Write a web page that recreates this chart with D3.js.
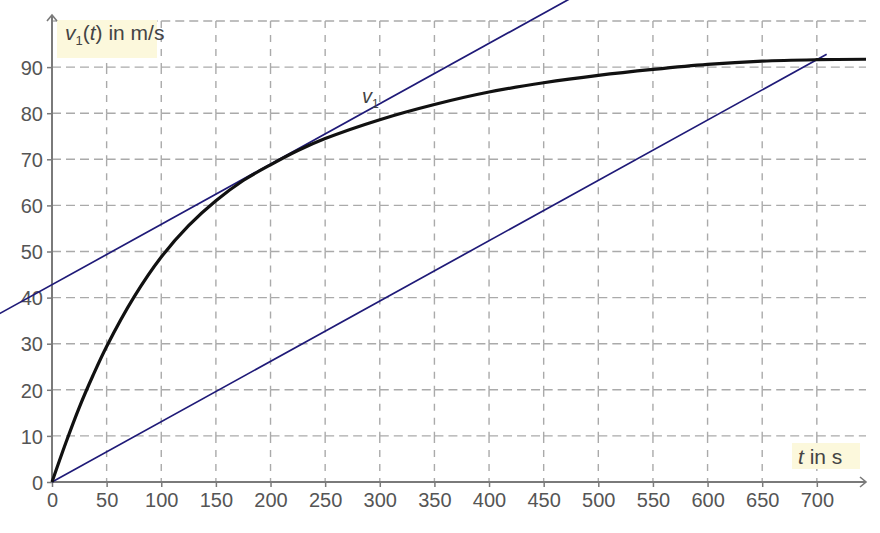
<!DOCTYPE html>
<html><head><meta charset="utf-8">
<script src="https://cdn.jsdelivr.net/npm/d3@7"></script>
<style>body{margin:0;background:#fff}svg{display:block}</style>
</head><body>
<script>
// Data
const curveT = [0, 12.5, 25, 37.5, 50, 75, 100, 125, 150, 175, 200, 225, 250, 300, 350, 400, 450, 500, 550, 600, 650, 700, 745];
const curveV = [0, 8.4, 16.2, 23.1, 29.4, 40.1, 48.8, 55.6, 61, 65.4, 68.8, 71.9, 74.5, 78.6, 81.9, 84.6, 86.6, 88.2, 89.5, 90.6, 91.3, 91.6, 91.7];
// secant through origin and (700, 91.6); tangent parallel to it
const secantT = [0, 709];
const secantSlope = 91.6 / 700;
const tangentT = [-50, 500];
const tangentIntercept = 42.8;
const xTicks = [0, 50, 100, 150, 200, 250, 300, 350, 400, 450, 500, 550, 600, 650, 700];
const yTicks = [0, 10, 20, 30, 40, 50, 60, 70, 80, 90];
const gridY = [10, 20, 30, 40, 50, 60, 70, 80, 90, 100];

const W = 880, H = 533;
const svg = d3.select("body").append("svg").attr("width", W).attr("height", H);
const x = d3.scaleLinear().domain([0, 745]).range([52, 866]);
const y = d3.scaleLinear().domain([0, 100]).range([482, 21]);

const gridColor = "#aaaaaa";
const gx = xTicks.concat([745]);
const g = svg.append("g");
gridY.forEach(v => {
  for (let i = 0; i < gx.length - 1; i++) {
    g.append("line").attr("x1", x(gx[i])).attr("x2", x(gx[i + 1]))
      .attr("y1", y(v)).attr("y2", y(v))
      .attr("stroke", gridColor).attr("stroke-width", 1.4).attr("stroke-dasharray", "9,5");
  }
});
const gyv = [0].concat(gridY);
xTicks.filter(t => t > 0).forEach(t => {
  for (let i = gyv.length - 1; i > 0; i--) {
    g.append("line").attr("x1", x(t)).attr("x2", x(t))
      .attr("y1", y(gyv[i])).attr("y2", y(gyv[i - 1]))
      .attr("stroke", gridColor).attr("stroke-width", 1.4).attr("stroke-dasharray", "7,7");
  }
});

// label backgrounds
svg.append("rect").attr("x", 57).attr("y", 20).attr("width", 100).attr("height", 38).attr("fill", "#fcf8dc");
svg.append("rect").attr("x", 792).attr("y", 443).attr("width", 68).attr("height", 26).attr("fill", "#fcf8dc");

// axes
const axisColor = "#7a7a7a";
const xAxis = d3.axisBottom(x).tickValues(xTicks).tickSize(5).tickFormat(d3.format("d"));
const yAxis = d3.axisLeft(y).tickValues(yTicks).tickSize(5).tickFormat(d3.format("d"));
const xa = svg.append("g").attr("transform", `translate(0,${y(0)})`).call(xAxis);
const ya = svg.append("g").attr("transform", `translate(${x(0)},0)`).call(yAxis);
[xa, ya].forEach(a => {
  a.select(".domain").remove();
  a.selectAll("line").attr("stroke", axisColor).attr("stroke-width", 1.5);
  a.selectAll("text").attr("fill", "#555").style("font-family", "Liberation Sans, Arial, sans-serif").style("font-size", "20px");
});
xa.selectAll("text").attr("dy", "0.95em").attr("y", 6);
ya.selectAll("text").attr("x", -9).attr("dy", "0.36em");

svg.append("line").attr("x1", x(0)).attr("x2", 866).attr("y1", y(0)).attr("y2", y(0)).attr("stroke", axisColor).attr("stroke-width", 2);
svg.append("line").attr("x1", x(0)).attr("x2", x(0)).attr("y1", y(0)).attr("y2", 15).attr("stroke", axisColor).attr("stroke-width", 2);
svg.append("path").attr("d", `M${866 - 6},${y(0) - 5} L866,${y(0)} L${866 - 6},${y(0) + 5}`).attr("fill", "none").attr("stroke", axisColor).attr("stroke-width", 1.6);
svg.append("path").attr("d", `M${x(0) - 5},21 L${x(0)},15 L${x(0) + 5},21`).attr("fill", "none").attr("stroke", axisColor).attr("stroke-width", 1.6);

// lines
const navy = "#1f1a78";
svg.append("line").attr("x1", x(secantT[0])).attr("y1", y(secantT[0] * secantSlope))
  .attr("x2", x(secantT[1])).attr("y2", y(secantT[1] * secantSlope))
  .attr("stroke", navy).attr("stroke-width", 1.7);
svg.append("line").attr("x1", x(tangentT[0])).attr("y1", y(tangentIntercept + tangentT[0] * secantSlope))
  .attr("x2", x(tangentT[1])).attr("y2", y(tangentIntercept + tangentT[1] * secantSlope))
  .attr("stroke", navy).attr("stroke-width", 1.7);

// curve
const pts = curveT.map((t, i) => [t, curveV[i]]);
svg.append("path").datum(pts)
  .attr("d", d3.line().x(d => x(d[0])).y(d => y(d[1])).curve(d3.curveCatmullRom.alpha(0.5)))
  .attr("fill", "none").attr("stroke", "#111").attr("stroke-width", 3.2);

// texts
const font = "Liberation Sans, Arial, sans-serif";
const yl = svg.append("text").attr("x", 65).attr("y", 40).attr("fill", "#444")
  .style("font-family", font).style("font-size", "21px");
yl.append("tspan").attr("font-style", "italic").text("v");
yl.append("tspan").attr("font-size", "13px").attr("dy", 5).text("1");
yl.append("tspan").attr("dy", -5).text("(");
yl.append("tspan").attr("font-style", "italic").text("t");
yl.append("tspan").text(") in m/s");

const xl = svg.append("text").attr("x", 798).attr("y", 464).attr("fill", "#444")
  .style("font-family", font).style("font-size", "21px");
xl.append("tspan").attr("font-style", "italic").text("t");
xl.append("tspan").text(" in s");

const vl = svg.append("text").attr("x", 362).attr("y", 103).attr("fill", "#444")
  .style("font-family", font).style("font-size", "20px");
vl.append("tspan").attr("font-style", "italic").text("v");
vl.append("tspan").attr("font-size", "12px").attr("dy", 5).text("1");
</script>
</body></html>
